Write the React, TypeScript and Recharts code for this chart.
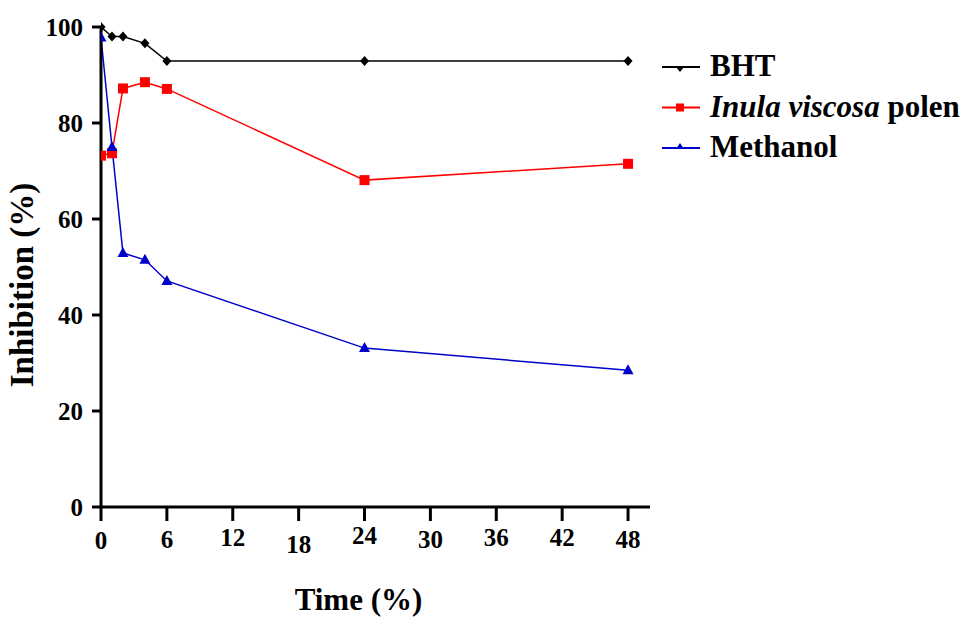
import { LineChart, Line, XAxis, YAxis } from "recharts";

const times = [0, 1, 2, 4, 6, 24, 48];
const bht = [100, 98, 98, 96.6, 92.9, 92.9, 92.9];
const inula = [73.2, 73.7, 87.2, 88.5, 87.1, 68.1, 71.5];
const methanol = [97.8, 75, 52.9, 51.5, 47.1, 33.1, 28.5];

const xTicks = [0, 6, 12, 18, 24, 30, 36, 42, 48];
const yTicks = [0, 20, 40, 60, 80, 100];

const data = times.map((t, i) => ({
  t,
  bht: bht[i],
  inula: inula[i],
  methanol: methanol[i],
}));

const FONT = "'Liberation Serif', 'Times New Roman', serif";

// the x tick labels in the figure are printed a little out of line
const xLabelShift: Record<number, number> = {
  0: 0, 6: -1, 12: -3, 18: 4, 24: -5, 30: -1, 36: -3, 42: -3, 48: -1,
};

const XTick = (props: any) => {
  const { x, y, payload } = props;
  return (
    <text
      x={x}
      y={y + 26 + (xLabelShift[payload.value] ?? 0)}
      textAnchor="middle"
      fontFamily={FONT}
      fontWeight="bold"
      fontSize={25}
      fill="#000"
    >
      {payload.value}
    </text>
  );
};

const Diamond = (props: any) => {
  const { cx, cy } = props;
  if (cx == null || cy == null) return null;
  return (
    <polygon
      points={`${cx},${cy - 5} ${cx + 4.5},${cy} ${cx},${cy + 5} ${cx - 4.5},${cy}`}
      fill="#000"
    />
  );
};

const Square = (props: any) => {
  const { cx, cy } = props;
  if (cx == null || cy == null) return null;
  return <rect x={cx - 5} y={cy - 5} width={10} height={10} fill="#ff0000" />;
};

const Triangle = (props: any) => {
  const { cx, cy } = props;
  if (cx == null || cy == null) return null;
  return (
    <polygon
      points={`${cx},${cy - 6} ${cx + 5.5},${cy + 4} ${cx - 5.5},${cy + 4}`}
      fill="#0000cc"
    />
  );
};

const XLabel = (props: any) => {
  const { viewBox } = props;
  return (
    <text
      x={viewBox.x + viewBox.width / 2 - 17}
      y={610}
      textAnchor="middle"
      fontFamily={FONT}
      fontWeight="bold"
      fontSize={31}
      fill="#000"
    >
      Time (%)
    </text>
  );
};

const YLabel = (props: any) => {
  const { viewBox } = props;
  const cx = 33;
  const cy = viewBox.y + viewBox.height / 2 + 18;
  return (
    <text
      x={cx}
      y={cy}
      transform={`rotate(-90, ${cx}, ${cy})`}
      textAnchor="middle"
      fontFamily={FONT}
      fontWeight="bold"
      fontSize={33}
      fill="#000"
    >
      Inhibition (%)
    </text>
  );
};

const LegendBox = () => {
  const rows = [
    { color: "#000", mark: "down", label: <tspan>BHT</tspan> },
    {
      color: "#ff0000",
      mark: "square",
      label: (
        <>
          <tspan fontStyle="italic">Inula viscosa</tspan>
          <tspan> polen</tspan>
        </>
      ),
    },
    { color: "#0000cc", mark: "up", label: <tspan>Methanol</tspan> },
  ];
  return (
    <svg width={310} height={150} style={{ display: "block" }}>
      {rows.map((r, i) => {
        const cy = 26 + i * 40.5;
        return (
          <g key={i}>
            <line x1={2} x2={40} y1={cy} y2={cy} stroke={r.color} strokeWidth={2} />
            {r.mark === "down" && (
              <polygon points={`${16},${cy} ${24},${cy} ${20},${cy + 5}`} fill={r.color} />
            )}
            {r.mark === "square" && (
              <rect x={16} y={cy - 4} width={8} height={8} fill={r.color} />
            )}
            {r.mark === "up" && (
              <polygon points={`${20},${cy - 5} ${24},${cy + 1} ${16},${cy + 1}`} fill={r.color} />
            )}
            <text
              x={50}
              y={cy + 9}
              fontFamily={FONT}
              fontWeight="bold"
              fontSize={31}
              fill="#000"
            >
              {r.label}
            </text>
          </g>
        );
      })}
    </svg>
  );
};

export default function App() {
  return (
    <div
      style={{
        position: "absolute",
        left: 0,
        top: 0,
        width: 972,
        height: 619,
        background: "#fff",
        overflow: "hidden",
      }}
    >
      <LineChart
        width={972}
        height={619}
        data={data}
        margin={{ top: 27, right: 322, bottom: 0, left: 0 }}
      >
        <XAxis
          dataKey="t"
          type="number"
          domain={[0, 50]}
          ticks={xTicks}
          interval={0}
          allowDataOverflow
          height={112}
          stroke="#000"
          strokeWidth={3}
          tickSize={14}
          tickLine={{ stroke: "#000", strokeWidth: 3 }}
          tick={<XTick />}
          label={<XLabel />}
        />
        <YAxis
          type="number"
          domain={[0, 100]}
          ticks={yTicks}
          interval={0}
          width={101}
          stroke="#000"
          strokeWidth={3}
          tickSize={9}
          tickMargin={9}
          tickLine={{ stroke: "#000", strokeWidth: 3 }}
          tick={{ fontFamily: FONT, fontWeight: "bold", fontSize: 25, fill: "#000" }}
          label={<YLabel />}
        />
        <Line
          dataKey="bht"
          name="BHT"
          stroke="#000"
          strokeWidth={1.5}
          dot={<Diamond />}
          activeDot={false}
          isAnimationActive={false}
        />
        <Line
          dataKey="inula"
          name="Inula viscosa polen"
          stroke="#ff0000"
          strokeWidth={1.5}
          dot={<Square />}
          activeDot={false}
          isAnimationActive={false}
        />
        <Line
          dataKey="methanol"
          name="Methanol"
          stroke="#0000cc"
          strokeWidth={1.5}
          dot={<Triangle />}
          activeDot={false}
          isAnimationActive={false}
        />
      </LineChart>
      <div style={{ position: "absolute", left: 660, top: 41 }}>
        <LegendBox />
      </div>
    </div>
  );
}
